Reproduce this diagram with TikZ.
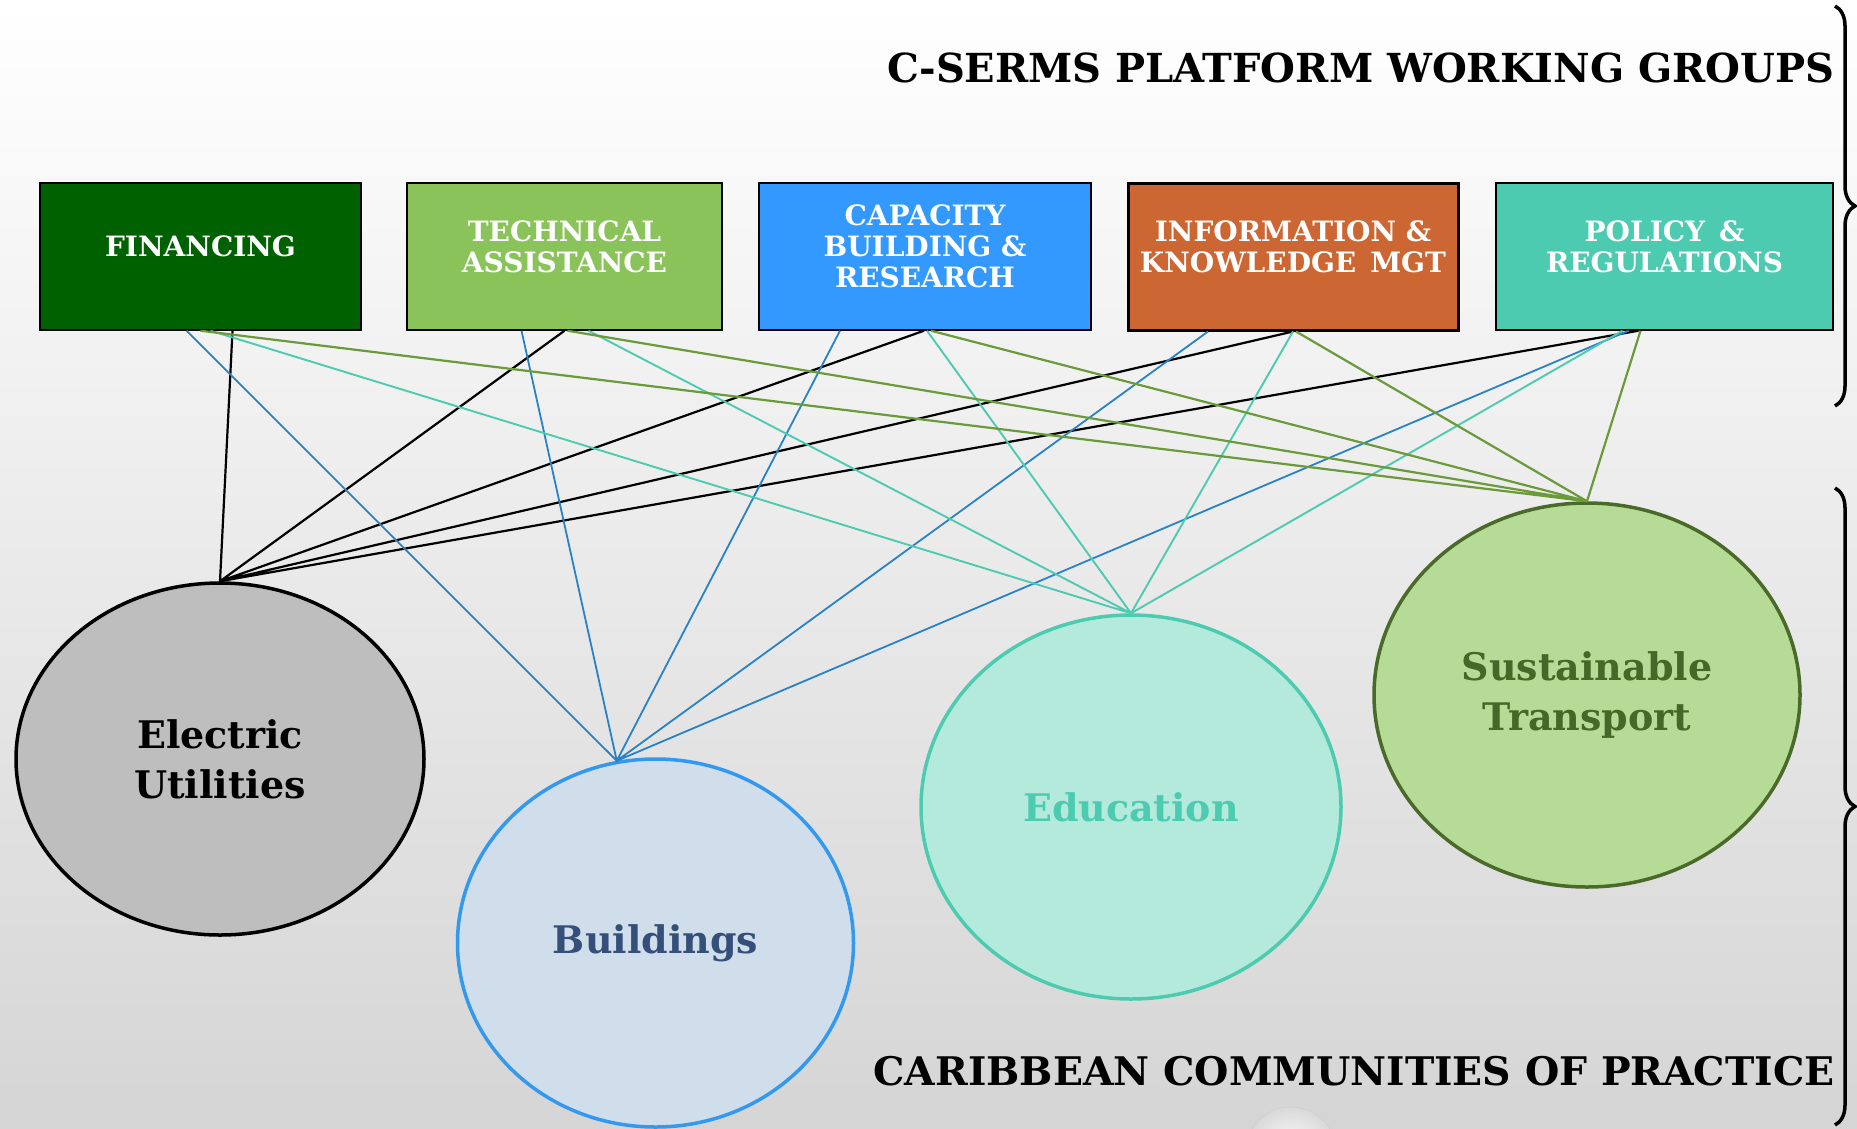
\documentclass[tikz,border=0pt]{standalone}
\usepackage{fontspec}
\setmainfont{DejaVu Serif}
\usetikzlibrary{shapes.geometric,decorations.pathreplacing}

\definecolor{fincol}{RGB}{0,97,0}
\definecolor{techcol}{RGB}{139,195,91}
\definecolor{capcol}{RGB}{51,153,255}
\definecolor{infocol}{RGB}{204,102,51}
\definecolor{polcol}{RGB}{77,203,176}
\definecolor{elecfill}{RGB}{190,190,190}
\definecolor{bldfill}{RGB}{208,221,234}
\definecolor{bldline}{RGB}{51,153,238}
\definecolor{bldtext}{RGB}{52,80,122}
\definecolor{edufill}{RGB}{180,234,220}
\definecolor{trfill}{RGB}{181,219,150}
\definecolor{trline}{RGB}{74,106,42}
\definecolor{trtext}{RGB}{67,104,40}
\definecolor{bluelink}{RGB}{40,130,200}
\definecolor{greenlink}{RGB}{106,154,58}

\begin{document}
\begin{tikzpicture}[x=1pt,y=-1pt,
	wg box/.style = {rectangle,draw,line width=1.4pt,minimum height=147pt,inner sep=0pt},
	wg text/.style = {text=white,align=center,font=\bfseries\fontsize{28}{31}\selectfont,yshift=10pt},
	cop node/.style = {ellipse,line width=3.5pt,inner sep=0pt,align=center,font=\bfseries\fontsize{38}{50}\selectfont},
	head text/.style = {anchor=base east,font=\bfseries\fontsize{40}{48}\selectfont},
	link/.style = {line width=2.2pt}]
	\clip (0,0) rectangle (1857,1128);
	\shade[top color=white,middle color=gray!6,bottom color=gray!33] (0,0) rectangle (1857,1128);
	\shade[inner color=white,outer color=gray!30,draw=gray!40] (1291,1152) circle (45);

	\node[head text] (wgtitle) at (1838,82) {C-SERMS PLATFORM WORKING GROUPS};
	\node[head text,font=\bfseries\fontsize{39.4}{48}\selectfont] (coptitle) at (1838,1085) {CARIBBEAN COMMUNITIES OF PRACTICE};

	\node[wg box,fill=fincol,minimum width=321pt,label={[wg text]center:FINANCING}] (fin) at (200.5,256.5) {};
	\node[wg box,fill=techcol,minimum width=315pt,label={[wg text]center:TECHNICAL\\ASSISTANCE}] (tech) at (564.5,256.5) {};
	\node[wg box,fill=capcol,minimum width=332pt,label={[wg text]center:CAPACITY\\BUILDING \&\\RESEARCH}] (cap) at (925,256.5) {};
	\node[wg box,fill=infocol,line width=3pt,minimum width=330pt,label={[wg text]center:INFORMATION \&\\KNOWLEDGE\enspace MGT}] (info) at (1293,256.5) {};
	\node[wg box,fill=polcol,minimum width=337pt,label={[wg text]center:POLICY\enspace\&\\REGULATIONS}] (pol) at (1664.5,256.5) {};

	\node[cop node,draw=black,fill=elecfill,minimum width=408pt,minimum height=352pt] (elec) at (220,759) {Electric\\Utilities};
	\node[cop node,draw=bldline,fill=bldfill,text=bldtext,minimum width=396pt,minimum height=368pt] (bld) at (655.5,943) {Buildings};
	\node[cop node,draw=polcol,fill=edufill,text=polcol,minimum width=420pt,minimum height=384pt] (edu) at (1131,807) {Education};
	\node[cop node,draw=trline,fill=trfill,text=trtext,minimum width=426pt,minimum height=384pt] (tran) at (1587,695) {Sustainable\\Transport};
	\coordinate (bldtop) at (bld.102);

	\draw[link,black] ([xshift=32pt]fin.south) -- (elec.north) -- (tech.south) (elec.north) -- ([xshift=-1pt]cap.south)
		(elec.north) -- (info.south) (elec.north) -- ([xshift=-26pt]pol.south);
	\draw[link,bluelink,line width=1.8pt] ([xshift=-14pt]fin.south) -- (bldtop) -- ([xshift=-43pt]tech.south) (bldtop) -- ([xshift=-85pt]cap.south)
		(bldtop) -- ([xshift=-85pt]info.south) (bldtop) -- ([xshift=-36pt]pol.south);
	\draw[link,polcol,line width=1.9pt] ([xshift=10pt]fin.south) -- (edu.north) -- ([xshift=24pt]tech.south) (edu.north) -- ([xshift=2pt]cap.south)
		(edu.north) -- (info.south) (edu.north) -- ([xshift=-42pt]pol.south);
	\draw[link,greenlink] (fin.south) -- (tran.north) -- ([xshift=3pt]tech.south) (tran.north) -- ([xshift=6pt]cap.south)
		(tran.north) -- ([xshift=3pt]info.south) (tran.north) -- ([xshift=-24pt]pol.south);

	\draw[line width=3.5pt,decorate,decoration={brace,amplitude=20pt}] (1835,6) -- (1835,406);
	\draw[line width=3.5pt,decorate,decoration={brace,amplitude=20pt}] (1835,488) -- (1835,1125);
\end{tikzpicture}
\end{document}
